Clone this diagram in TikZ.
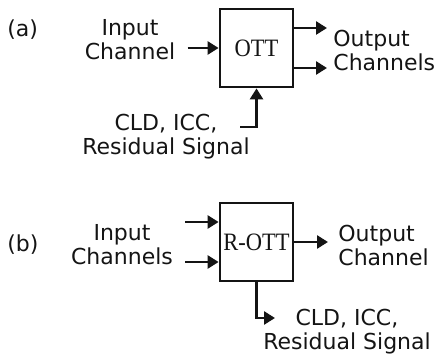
\documentclass[tikz,border=0pt]{standalone}
\usepackage{fontspec}
\usepackage{tikz}
\usepackage{xcolor}
\usetikzlibrary{arrows.meta,positioning,calc}
\setmainfont{DejaVu Sans}
\newfontfamily\boxfont[FakeStretch=0.9]{Liberation Serif}
\definecolor{ink}{HTML}{141414}
\tikzset{
  ottbox/.style={draw=ink,fill=white,line width=1.4pt,
                 minimum width=36.5pt,minimum height=39pt,inner sep=0pt,
                 font=\boxfont\fontsize{12.5}{13}\selectfont,text=ink},
  sigtext/.style={inner sep=1pt,align=center,text=ink,
                  font=\fontsize{11}{12}\selectfont},
  partlbl/.style={inner sep=0pt,text=ink,font=\fontsize{11}{12}\selectfont},
  sigarr/.style={-{Triangle[length=5.5pt,width=6.5pt]},line width=1.3pt,draw=ink}
}

\begin{document}
\begin{tikzpicture}[x=0.5pt,y=-0.5pt]
  \useasboundingbox (0,0) rectangle (434,358);

  % (a) one-to-two box
  \node[partlbl,anchor=base west] (lblA) at (7,37) {(a)};
  \node[ottbox] (ott) at (256.5,48) {OTT};
  \node[sigtext] (inA) at (130,40) {Input\\Channel};
  \node[sigtext,align=left,anchor=west] (outA) at (331,50) {Output\\Channels};
  \node[sigtext] (sideA) at (166,137) {CLD, ICC,\\Residual Signal};
  \coordinate (ctlA) at (240,127);
  \draw[sigarr] ([xshift=5pt]inA.east |- ott.west) -- (ott.west);
  \draw[sigarr] ([yshift=10pt]ott.east) -- ([yshift=10pt,xshift=-2pt]ott.east -| outA.west);
  \draw[sigarr] ([yshift=-10pt]ott.east) -- ([yshift=-10pt,xshift=-2pt]ott.east -| outA.west);
  \draw[sigarr] (ctlA) -| (ott.south);

  % (b) reverse box
  \node[partlbl,anchor=base west] (lblB) at (7,251) {(b)};
  \node[ottbox] (rott) at (256.5,242) {R-OTT};
  \node[sigtext] (inB) at (122,245) {Input\\Channels};
  \node[sigtext,align=left,anchor=west] (outB) at (336,245) {Output\\Channel};
  \node[sigtext] (sideB) at (347,332) {CLD, ICC,\\Residual Signal};
  \coordinate (ctlB) at (275,318);
  \draw[sigarr] ([xshift=5pt,yshift=10pt]inB.east |- rott.west) -- ([yshift=10pt]rott.west);
  \draw[sigarr] ([xshift=5pt,yshift=-10pt]inB.east |- rott.west) -- ([yshift=-10pt]rott.west);
  \draw[sigarr] (rott.east) -- ([xshift=-4pt]rott.east -| outB.west);
  \draw[sigarr] (rott.south) |- (ctlB);
\end{tikzpicture}
\end{document}
